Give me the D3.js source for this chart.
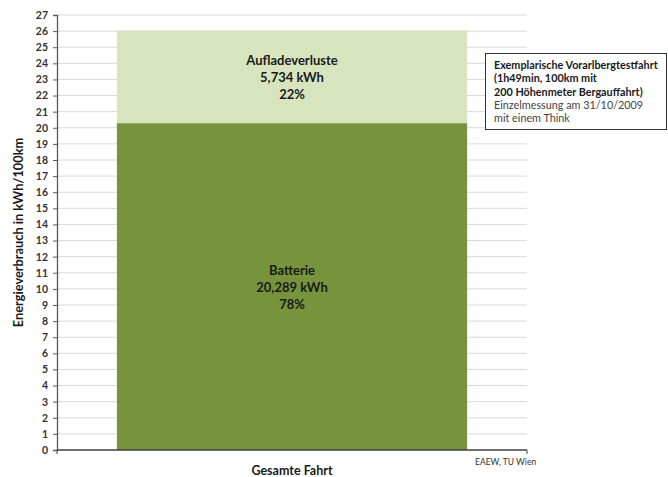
<!DOCTYPE html>
<html>
<head>
<meta charset="utf-8">
<script src="https://cdn.jsdelivr.net/npm/d3@7"></script>
<style>
  html, body { margin: 0; padding: 0; background: #fff; }
  svg text { font-family: Lato, "Open Sans", sans-serif; }
</style>
</head>
<body>
<svg id="chart" width="668" height="477"></svg>
<script>
// Energy consumption of one test drive, split into battery and charging losses
const categories = ["Gesamte Fahrt"];
const segmentNames = ["Batterie", "Aufladeverluste"];
const segmentValues = [20.289, 5.734];
const segmentLabels = ["20,289 kWh", "5,734 kWh"];
const segmentShares = ["78%", "22%"];
const segmentColors = ["#77933C", "#D7E4BD"];
const yTicks = d3.range(0, 28);
const noteLines = [
  { text: "Exemplarische Vorarlbergtestfahrt", bold: true },
  { text: "(1h49min, 100km mit", bold: true },
  { text: "200 Höhenmeter Bergauffahrt)", bold: true },
  { text: "Einzelmessung am 31/10/2009", bold: false },
  { text: "mit einem Think", bold: false }
];

const svg = d3.select("#chart");
const margin = { left: 57, right: 141, top: 15, bottom: 27 };
const W = 668, H = 477;
const x0 = margin.left, x1 = W - margin.right;
const yBottom = H - margin.bottom, yTop = margin.top;

const x = d3.scaleBand().domain(categories).range([x0, x1]).padding(0.146);
const y = d3.scaleLinear().domain([0, 27]).range([yBottom, yTop]);

// horizontal gridlines
svg.append("g").selectAll("line").data(yTicks.filter(d => d > 0)).join("line")
  .attr("x1", x0).attr("x2", x1)
  .attr("y1", d => y(d)).attr("y2", d => y(d))
  .attr("stroke", "#d9d9d9").attr("stroke-width", 1);

// stacked bar segments
const stackData = [];
let acc = 0;
segmentValues.forEach((v, i) => {
  stackData.push({ name: segmentNames[i], y0: acc, y1: acc + v, label: segmentLabels[i], share: segmentShares[i], color: segmentColors[i] });
  acc += v;
});

const cat = categories[0];
svg.append("g").selectAll("rect").data(stackData).join("rect")
  .attr("x", x(cat)).attr("width", x.bandwidth())
  .attr("y", d => y(d.y1)).attr("height", d => y(d.y0) - y(d.y1))
  .attr("fill", d => d.color);

// segment labels
const lbl = svg.append("g").selectAll("text").data(stackData).join("text")
  .attr("text-anchor", "middle")
  .attr("font-weight", "bold").attr("font-size", 13).attr("fill", "#1a1a1a")
  .attr("transform", d => `translate(${x(cat) + x.bandwidth() / 2},${(y(d.y0) + y(d.y1)) / 2})`);
lbl.append("tspan").attr("x", 0).attr("dy", -12).text(d => d.name);
lbl.append("tspan").attr("x", 0).attr("dy", 17).text(d => d.label);
lbl.append("tspan").attr("x", 0).attr("dy", 17).text(d => d.share);

// y axis
const yAxis = svg.append("g").attr("transform", `translate(${x0},0)`)
  .call(d3.axisLeft(y).tickValues(yTicks).tickSize(4).tickPadding(5).tickFormat(d3.format("d")));
yAxis.select(".domain").attr("stroke", "#595959").attr("stroke-width", 1.3);
yAxis.selectAll(".tick line").attr("stroke", "#595959");
yAxis.selectAll("text").attr("font-size", 10.5).attr("font-weight", "bold").attr("fill", "#333")
  .attr("font-family", "Lato, sans-serif");

// x axis baseline with boundary ticks
const xAxis = svg.append("g").attr("transform", `translate(0,${yBottom})`);
xAxis.append("line").attr("x1", x0).attr("x2", x1).attr("stroke", "#404040").attr("stroke-width", 1.3);
xAxis.selectAll("line.bt").data([x0, x1]).join("line").attr("class", "bt")
  .attr("x1", d => d).attr("x2", d => d).attr("y1", 0).attr("y2", 4)
  .attr("stroke", "#404040");
xAxis.append("text").attr("x", x(cat) + x.bandwidth() / 2).attr("y", 25)
  .attr("text-anchor", "middle").attr("font-weight", "bold").attr("font-size", 12.5).attr("fill", "#1a1a1a")
  .text(cat);

// y axis title
svg.append("text")
  .attr("transform", `translate(23,${(yTop + yBottom) / 2}) rotate(-90)`)
  .attr("text-anchor", "middle").attr("font-weight", "bold").attr("font-size", 12.8).attr("fill", "#1a1a1a")
  .text("Energieverbrauch in kWh/100km");

// source note
svg.append("text").attr("x", 475).attr("y", 465).attr("font-size", 8.5).attr("fill", "#333")
  .text("EAEW, TU Wien");

// annotation box
const note = svg.append("g").attr("transform", "translate(485,53)");
note.append("rect").attr("x", 0.5).attr("y", 0.5).attr("width", 181).attr("height", 76)
  .attr("fill", "#fff").attr("stroke", "#333").attr("stroke-width", 1);
note.selectAll("text").data(noteLines).join("text")
  .attr("x", 9).attr("y", (d, i) => 16 + i * 13.3)
  .attr("font-size", 10.8)
  .attr("font-weight", d => d.bold ? "bold" : "normal")
  .attr("fill", d => d.bold ? "#1a1a1a" : "#444")
  .text(d => d.text);
</script>
</body>
</html>
